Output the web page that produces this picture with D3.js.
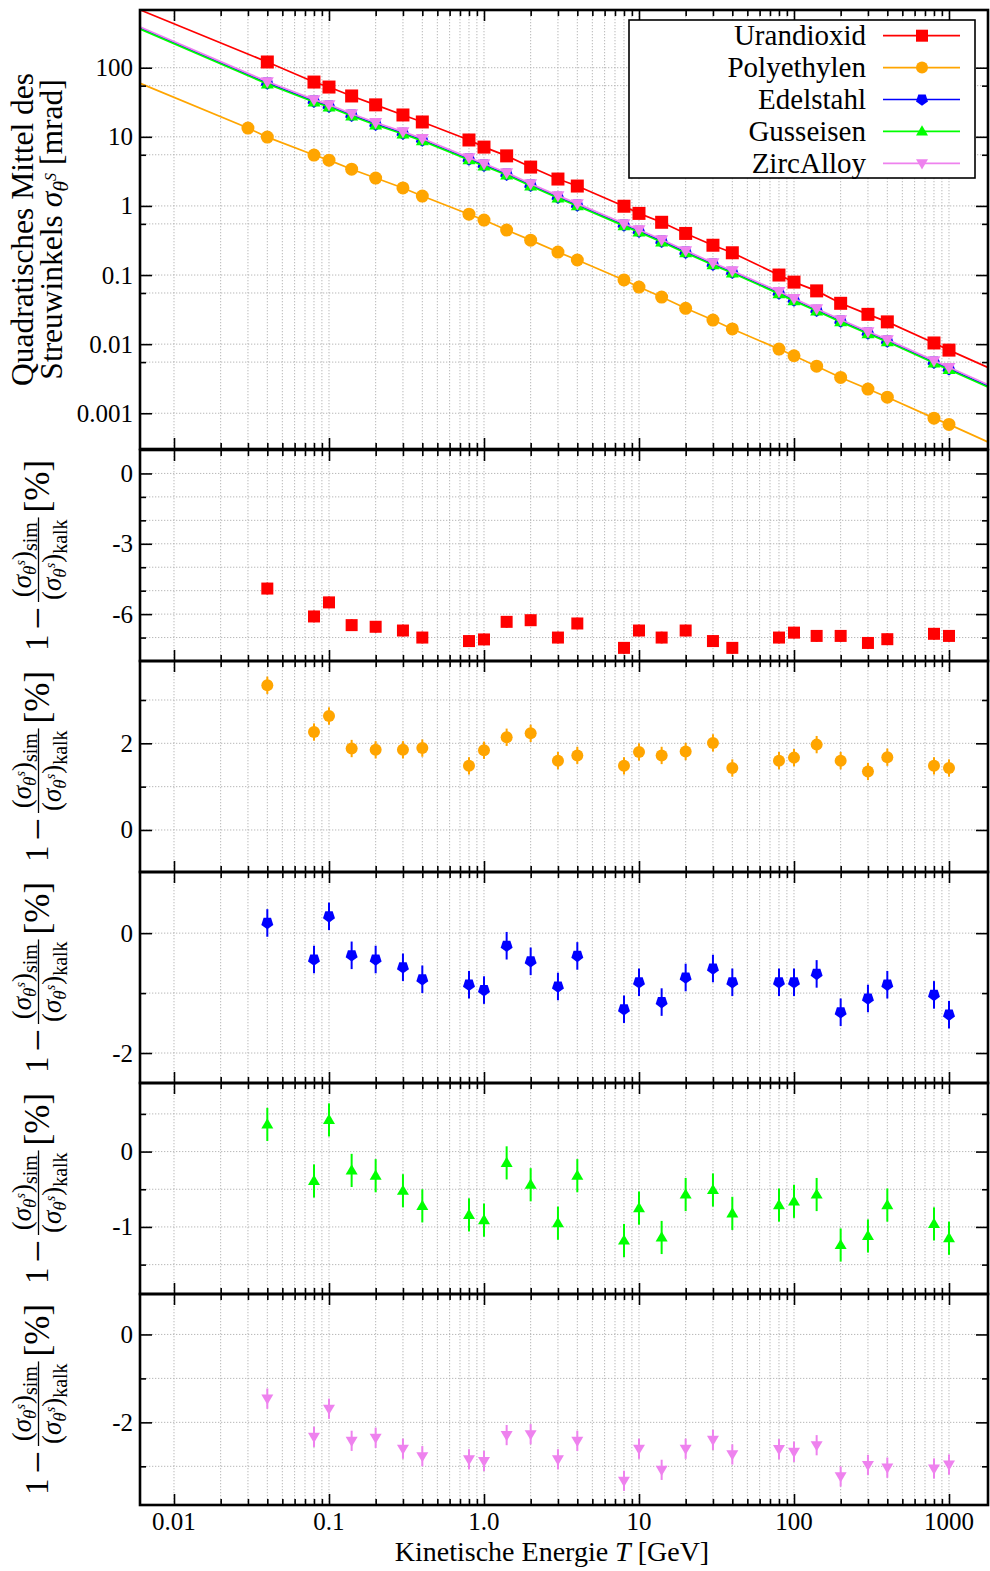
<!DOCTYPE html>
<html>
<head>
<meta charset="utf-8">
<script src="https://cdn.jsdelivr.net/npm/d3@7"></script>
<style>
  html, body { margin: 0; padding: 0; background: #fff; }
  svg { display: block; font-family: "Liberation Serif", "Times New Roman", serif; }
</style>
</head>
<body>
<svg id="chart" width="990" height="1571"></svg>
<script>
// ---------- data ----------
const energies = [0.04, 0.08, 0.1, 0.14, 0.2, 0.3, 0.4, 0.8, 1, 1.4, 2, 3, 4, 8, 10, 14, 20, 30, 40, 80, 100, 140, 200, 300, 400, 800, 1000];
const energiesPE = [0.03, 0.04, 0.08, 0.1, 0.14, 0.2, 0.3, 0.4, 0.8, 1, 1.4, 2, 3, 4, 8, 10, 14, 20, 30, 40, 80, 100, 140, 200, 300, 400, 800, 1000];

const materials = ["Urandioxid", "Polyethylen", "Edelstahl", "Gusseisen", "ZircAlloy"];
const colors = ["#ff0000", "#ffa500", "#0000ff", "#00ff00", "#ee82ee"];
const shapes = ["square", "circle", "pentagon", "triangle", "triangleDown"];

// RMS scattering angle [mrad], simulated
const sigmaUran = [121, 62, 52.5, 39, 29, 20.7, 16.4, 9.0, 7.1, 5.3, 3.65, 2.45, 1.94, 0.99, 0.78, 0.58, 0.40, 0.27, 0.21, 0.10, 0.079, 0.059, 0.039, 0.027, 0.021, 0.0104, 0.0082];
const sigmaPoly = [13.4, 9.9, 5.45, 4.6, 3.4, 2.53, 1.82, 1.39, 0.76, 0.625, 0.448, 0.32, 0.215, 0.165, 0.085, 0.067, 0.048, 0.033, 0.0223, 0.0166, 0.0085, 0.0068, 0.0048, 0.0033, 0.00224, 0.00171, 0.00085, 0.00069];
const sigmaEdel = [60, 32.9, 27.8, 20.6, 15.3, 11.3, 9.0, 4.77, 3.9, 2.89, 2.0, 1.34, 1.03, 0.53, 0.43, 0.31, 0.215, 0.144, 0.110, 0.055, 0.0436, 0.031, 0.0216, 0.0145, 0.0111, 0.0055, 0.0044];
const sigmaGuss = [58.2, 31.9, 27.0, 20.0, 14.8, 11.0, 8.73, 4.63, 3.78, 2.80, 1.94, 1.30, 1.0, 0.514, 0.417, 0.301, 0.209, 0.140, 0.107, 0.0534, 0.0423, 0.0301, 0.021, 0.0141, 0.0108, 0.00534, 0.00427];
const sigmaZirc = [63, 34.5, 29.2, 21.6, 16.1, 11.9, 9.45, 5.0, 4.1, 3.03, 2.1, 1.41, 1.08, 0.556, 0.452, 0.326, 0.226, 0.151, 0.1155, 0.0578, 0.0458, 0.0326, 0.0227, 0.0152, 0.01165, 0.00578, 0.00462];

// calculated curve at the ends of the energy range
const curveEnergyLow = 0.006;
const curveEnergyHigh = 1800;
const curveLow = [690, 60, 375, 365, 392];
const curveHigh = [0.00456, 0.00038, 0.00244, 0.00237, 0.00257];

// relative deviation 1 - sim/kalk [%]
const devUran = [-4.91, -6.10, -5.50, -6.47, -6.54, -6.70, -7.0, -7.15, -7.08, -6.33, -6.26, -7.0, -6.40, -7.44, -6.70, -7.0, -6.70, -7.15, -7.44, -7.0, -6.79, -6.93, -6.93, -7.23, -7.07, -6.84, -6.93];
const devPoly = [3.34, 2.26, 2.63, 1.88, 1.85, 1.85, 1.89, 1.48, 1.84, 2.14, 2.23, 1.60, 1.72, 1.48, 1.80, 1.72, 1.81, 2.01, 1.43, 1.60, 1.67, 1.97, 1.60, 1.35, 1.68, 1.48, 1.43];
const devEdel = [0.17, -0.44, 0.28, -0.37, -0.44, -0.57, -0.77, -0.86, -0.95, -0.21, -0.47, -0.89, -0.38, -1.27, -0.82, -1.15, -0.74, -0.59, -0.82, -0.82, -0.82, -0.68, -1.32, -1.09, -0.86, -1.03, -1.36];
const devGuss = [0.36, -0.39, 0.42, -0.25, -0.32, -0.52, -0.72, -0.84, -0.91, -0.15, -0.44, -0.95, -0.32, -1.18, -0.75, -1.14, -0.57, -0.51, -0.82, -0.71, -0.66, -0.57, -1.24, -1.12, -0.71, -0.96, -1.15];
const devZirc = [-1.46, -2.33, -1.69, -2.42, -2.35, -2.60, -2.77, -2.84, -2.88, -2.29, -2.27, -2.84, -2.42, -3.33, -2.60, -3.08, -2.60, -2.40, -2.73, -2.61, -2.67, -2.52, -3.23, -2.97, -3.03, -3.05, -2.96];
const devErr = [0.25, 0.2, 0.23, 0.22, 0.23];

// axis ticks
const xMajorTicks = [0.01, 0.1, 1, 10, 100, 1000];
const xMajorLabels = ["0.01", "0.1", "1.0", "10", "100", "1000"];
const yTopMajor = [100, 10, 1, 0.1, 0.01, 0.001];
const yTopLabels = ["100", "10", "1", "0.1", "0.01", "0.001"];
const yTopMinor = [55, 5.5, 0.55, 0.055, 0.0055];

const devDomains = [[-8, 1], [-0.97, 3.9], [-2.5, 1.02], [-1.89, 0.91], [-3.88, 0.92]];
const devMajor = [[0, -3, -6], [0, 2], [0, -2], [0, -1], [0, -2]];
const devMinor = [[-1, -2, -4, -5, -7], [1, 3], [-1], [0.5, -0.5, -1.5], [-1, -3]];

// ---------- layout ----------
const svg = d3.select("#chart");
const left = 140, right = 988;
const topPanel = [10, 449];
const devPanels = [[450, 661], [661, 872], [872, 1083], [1083, 1294], [1294, 1505]];

const x = d3.scaleLog().domain([0.006035, 1785]).range([left, right]);
const yTop = d3.scaleLog().domain([0.000304, 684]).range([topPanel[1], topPanel[0]]);

const sigmas = [sigmaUran, sigmaPoly, sigmaEdel, sigmaGuss, sigmaZirc];
const sigmaEnergies = [energies, energiesPE, energies, energies, energies];
const devs = [devUran, devPoly, devEdel, devGuss, devZirc];

// all x grid positions: 1..9 x 10^k between the labelled decades
const xGridTicks = x.ticks().filter(v => v >= 0.0099 && v <= 1001);

function markerPath(shape, r) {
  if (shape === "square") return d3.symbol(d3.symbolSquare, (2 * r) * (2 * r))();
  if (shape === "circle") return d3.symbol(d3.symbolCircle, Math.PI * r * r)();
  if (shape === "triangle" || shape === "triangleDown") {
    const h = r * 1.7, w = r * 1.0;
    const s = shape === "triangle" ? 1 : -1;
    return `M0,${-s * h * 0.6}L${w},${s * h * 0.4}L${-w},${s * h * 0.4}Z`;
  }
  if (shape === "pentagon") {
    const pts = d3.range(5).map(k => {
      const a = Math.PI / 2 + k * 2 * Math.PI / 5;
      return [r * 1.05 * Math.cos(a), r * 1.05 * Math.sin(a)];
    });
    return "M" + pts.map(p => p.join(",")).join("L") + "Z";
  }
}

const markerR = [6.5, 6.5, 6.5, 6.5, 6.5];

svg.append("defs").append("clipPath").attr("id", "clipTop")
  .append("rect").attr("x", left).attr("y", topPanel[0])
  .attr("width", right - left).attr("height", topPanel[1] - topPanel[0]);

const gridColor = "#b0b0b0";
function drawGrid(g, yScale, yVals, y0, y1) {
  g.selectAll("line.vx").data(xGridTicks).join("line")
    .attr("x1", d => x(d)).attr("x2", d => x(d))
    .attr("y1", y0).attr("y2", y1)
    .attr("stroke", gridColor).attr("stroke-width", 0.9).attr("stroke-dasharray", "1.3,1.7");
  g.selectAll("line.hy").data(yVals).join("line")
    .attr("x1", left).attr("x2", right)
    .attr("y1", d => yScale(d)).attr("y2", d => yScale(d))
    .attr("stroke", gridColor).attr("stroke-width", 0.9).attr("stroke-dasharray", "1.3,1.7");
}

function drawFrameAndTicks(yScale, yMajor, yMinor, y0, y1, yLabels) {
  const g = svg.append("g");
  // x ticks top & bottom (inward)
  const xMinorTicks = xGridTicks.filter(v => !xMajorTicks.some(m => Math.abs(m - v) / m < 1e-6));
  g.append("g").attr("transform", `translate(0,${y1})`)
    .call(d3.axisBottom(x).tickValues(xMajorTicks).tickSizeInner(-11).tickSizeOuter(0).tickFormat(""));
  g.append("g").attr("transform", `translate(0,${y1})`)
    .call(d3.axisBottom(x).tickValues(xMinorTicks).tickSizeInner(-6).tickSizeOuter(0).tickFormat(""));
  g.append("g").attr("transform", `translate(0,${y0})`)
    .call(d3.axisTop(x).tickValues(xMajorTicks).tickSizeInner(-11).tickSizeOuter(0).tickFormat(""));
  g.append("g").attr("transform", `translate(0,${y0})`)
    .call(d3.axisTop(x).tickValues(xMinorTicks).tickSizeInner(-6).tickSizeOuter(0).tickFormat(""));
  // y ticks left & right
  const lAxis = g.append("g").attr("transform", `translate(${left},0)`)
    .call(d3.axisLeft(yScale).tickValues(yMajor).tickSizeInner(-12).tickSizeOuter(0).tickPadding(7)
      .tickFormat((d, i) => yLabels[i]));
  g.append("g").attr("transform", `translate(${left},0)`)
    .call(d3.axisLeft(yScale).tickValues(yMinor).tickSizeInner(-6).tickSizeOuter(0).tickFormat(""));
  g.append("g").attr("transform", `translate(${right},0)`)
    .call(d3.axisRight(yScale).tickValues(yMajor).tickSizeInner(-12).tickSizeOuter(0).tickFormat(""));
  g.append("g").attr("transform", `translate(${right},0)`)
    .call(d3.axisRight(yScale).tickValues(yMinor).tickSizeInner(-6).tickSizeOuter(0).tickFormat(""));
  g.selectAll(".domain").remove();
  g.selectAll(".tick line").attr("stroke", "#000").attr("stroke-width", 1.6);
  lAxis.selectAll(".tick text").attr("font-size", 25).attr("fill", "#000")
    .attr("font-family", "Liberation Serif, serif");
  // frame
  g.append("rect").attr("x", left).attr("y", y0).attr("width", right - left).attr("height", y1 - y0)
    .attr("fill", "none").attr("stroke", "#000").attr("stroke-width", 2.6);
  return g;
}

// ---------- top panel ----------
const gTopGrid = svg.append("g");
drawGrid(gTopGrid, yTop, yTopMajor.concat(yTopMinor), topPanel[0], topPanel[1]);

const line = d3.line().x(d => x(d[0])).y(d => yTop(d[1]));
const gCurves = svg.append("g").attr("clip-path", "url(#clipTop)");
materials.forEach((m, i) => {
  const pts = [[curveEnergyLow, curveLow[i]]]
    .concat(sigmaEnergies[i].map((e, j) => [e, sigmas[i][j]]))
    .concat([[curveEnergyHigh, curveHigh[i]]]);
  gCurves.append("path").datum(pts).attr("d", line)
    .attr("fill", "none").attr("stroke", colors[i]).attr("stroke-width", 1.7);
  gCurves.append("g").selectAll("path").data(sigmaEnergies[i].map((e, j) => [e, sigmas[i][j]])).join("path")
    .attr("transform", d => `translate(${x(d[0])},${yTop(d[1])})`)
    .attr("d", markerPath(shapes[i], markerR[i]))
    .attr("fill", colors[i]);
});

drawFrameAndTicks(yTop, yTopMajor, yTopMinor, topPanel[0], topPanel[1], yTopLabels);

// legend
const legend = svg.append("g");
const lgBox = { x: 629, y: 20, w: 346, h: 158 };
legend.append("rect").attr("x", lgBox.x).attr("y", lgBox.y).attr("width", lgBox.w).attr("height", lgBox.h)
  .attr("fill", "#fff").attr("stroke", "#000").attr("stroke-width", 1.6);
const rowY = d3.scalePoint().domain(materials).range([35.7, 163.3]);
materials.forEach((m, i) => {
  const yy = rowY(m);
  legend.append("text").attr("x", 866).attr("y", yy + 9.5).attr("text-anchor", "end")
    .attr("font-size", 29).attr("fill", "#000").text(m);
  legend.append("line").attr("x1", 883).attr("x2", 960).attr("y1", yy).attr("y2", yy)
    .attr("stroke", colors[i]).attr("stroke-width", 1.7);
  legend.append("path").attr("transform", `translate(922,${yy})`)
    .attr("d", markerPath(shapes[i], 6)).attr("fill", colors[i]);
});

// ---------- deviation panels ----------
devPanels.forEach((p, i) => {
  const yS = d3.scaleLinear().domain(devDomains[i]).range([p[1], p[0]]);
  const gg = svg.append("g");
  drawGrid(gg, yS, devMajor[i].concat(devMinor[i]), p[0], p[1]);
  const pts = energies.map((e, j) => [e, devs[i][j]]);
  const gd = svg.append("g");
  gd.selectAll("line").data(pts).join("line")
    .attr("x1", d => x(d[0])).attr("x2", d => x(d[0]))
    .attr("y1", d => yS(d[1] - devErr[i])).attr("y2", d => yS(d[1] + devErr[i]))
    .attr("stroke", colors[i]).attr("stroke-width", 2);
  gd.selectAll("path").data(pts).join("path")
    .attr("transform", d => `translate(${x(d[0])},${yS(d[1])})`)
    .attr("d", markerPath(shapes[i], 6))
    .attr("fill", colors[i]);
  drawFrameAndTicks(yS, devMajor[i], devMinor[i], p[0], p[1], devMajor[i].map(v => v === 0 ? "0" : String(v)));
});

// x tick labels
svg.append("g").selectAll("text").data(xMajorTicks).join("text")
  .attr("x", d => x(d)).attr("y", 1530).attr("text-anchor", "middle")
  .attr("font-size", 25).attr("fill", "#000")
  .text((d, i) => xMajorLabels[i]);

// x axis title
const xt = svg.append("text").attr("x", 552).attr("y", 1561).attr("text-anchor", "middle")
  .attr("font-size", 28).attr("fill", "#000");
xt.append("tspan").text("Kinetische Energie ");
xt.append("tspan").attr("font-style", "italic").text("T");
xt.append("tspan").text(" [GeV]");

// top y title (two lines, rotated)
const cyTop = (topPanel[0] + topPanel[1]) / 2;
const ty = svg.append("g").attr("transform", `translate(0,${cyTop}) rotate(-90)`);
ty.append("text").attr("x", 0).attr("y", 33).attr("text-anchor", "middle")
  .attr("font-size", 31.5).attr("fill", "#000").text("Quadratisches Mittel des");
const l2 = ty.append("text").attr("x", 0).attr("y", 62).attr("text-anchor", "middle")
  .attr("font-size", 31.5).attr("fill", "#000");
l2.append("tspan").text("Streuwinkels ");
l2.append("tspan").attr("font-style", "italic").text("σ");
l2.append("tspan").attr("font-style", "italic").attr("font-size", 22).attr("dy", 6).text("θ");
l2.append("tspan").attr("font-style", "italic").attr("font-size", 16).attr("dy", -12).text("S");
l2.append("tspan").attr("dy", 6).text(" [mrad]");

// deviation y titles: 1 − (σθs)sim / (σθs)kalk [%]
function fracPart(g, sub, baseline) {
  const t = g.append("text").attr("y", baseline).attr("fill", "#000").attr("font-size", 27);
  t.append("tspan").text("(");
  t.append("tspan").attr("font-style", "italic").text("σ");
  t.append("tspan").attr("font-style", "italic").attr("font-size", 19).attr("dy", 5).text("θ");
  t.append("tspan").attr("font-style", "italic").attr("font-size", 14).attr("dy", -11).text("s");
  t.append("tspan").attr("dy", 6).text(")");
  t.append("tspan").attr("font-size", 20).attr("dy", 6).text(sub);
  return t;
}
function devLabel(cy) {
  const g = svg.append("g").attr("transform", `translate(0,${cy}) rotate(-90)`);
  const base = 48, F = 33;
  const one = g.append("text").attr("y", base).attr("font-size", F).attr("fill", "#000").text("1");
  const minus = g.append("text").attr("y", base + 3).attr("font-size", 40).attr("fill", "#000").text("−");
  const num = fracPart(g, "sim", 31);
  const den = fracPart(g, "kalk", 61);
  const pct = g.append("text").attr("y", base + 1).attr("font-size", F + 2).attr("fill", "#000").text("[%]");
  const w1 = one.node().getComputedTextLength();
  const wm = minus.node().getComputedTextLength();
  const wn = num.node().getComputedTextLength();
  const wd = den.node().getComputedTextLength();
  const wp = pct.node().getComputedTextLength();
  const wf = Math.max(wn, wd) + 4;
  const gap = 5;
  const total = w1 + gap + wm + gap + wf + gap + wp;
  let cx = -total / 2;
  one.attr("x", cx); cx += w1 + gap;
  minus.attr("x", cx); cx += wm + gap;
  num.attr("x", cx + (wf - wn) / 2);
  den.attr("x", cx + (wf - wd) / 2);
  g.append("line").attr("x1", cx).attr("x2", cx + wf).attr("y1", 38.5).attr("y2", 38.5)
    .attr("stroke", "#000").attr("stroke-width", 1.3);
  cx += wf + gap;
  pct.attr("x", cx);
}
devPanels.forEach(p => devLabel((p[0] + p[1]) / 2));
</script>
</body>
</html>
